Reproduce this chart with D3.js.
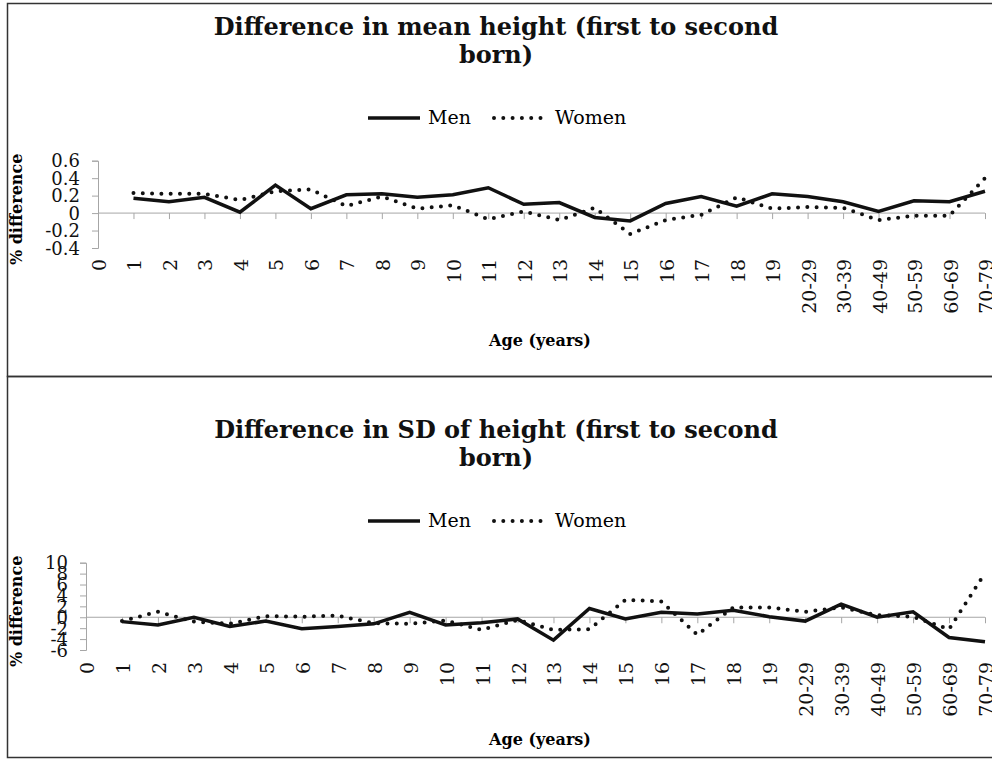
<!DOCTYPE html>
<html>
<head>
<meta charset="utf-8">
<script src="https://cdn.jsdelivr.net/npm/d3@7"></script>
<style>
  body { margin: 0; background: #fff; }
  svg { display: block; font-family: "DejaVu Serif", serif; }
</style>
</head>
<body>
<svg id="chart" width="992" height="761"></svg>
<script>
const ages = ["0","1","2","3","4","5","6","7","8","9","10","11","12","13","14","15","16","17","18","19",
  "20-29","30-39","40-49","50-59","60-69","70-79"];

// mean height difference (%), no value for age 0
const meanMen =   [null,0.17,0.13,0.18,0.01,0.32,0.05,0.21,0.22,0.18,0.21,0.29,0.10,0.12,-0.05,-0.09,0.11,0.19,0.08,0.22,0.19,0.13,0.02,0.14,0.13,0.25];
const meanWomen = [null,0.23,0.22,0.22,0.15,0.25,0.27,0.08,0.19,0.05,0.09,-0.07,0.02,-0.08,0.06,-0.24,-0.08,-0.02,0.18,0.05,0.07,0.06,-0.08,-0.03,-0.03,0.40];

// SD of height difference (%)
const sdMen =   [null,-0.8,-1.4,0.0,-1.7,-0.7,-2.1,-1.7,-1.2,0.9,-1.4,-1.0,-0.3,-4.2,1.6,-0.3,0.9,0.6,1.3,0.1,-0.7,2.4,0.0,1.0,-3.7,-4.5];
const sdWomen = [null,-0.7,1.0,-0.8,-1.2,0.2,0.1,0.3,-1.1,-1.2,-0.6,-2.3,-0.5,-2.3,-2.2,3.2,2.9,-3.2,1.8,1.8,1.0,1.8,0.4,0.1,-2.2,8.1];

const meanTicks = [-0.4,-0.2,0,0.2,0.4,0.6];
const sdTicks = [-6,-4,-2,0,2,4,6,8,10];

const svg = d3.select("#chart");
const axisGray = "#a6a6a6";
const dots = "0 9.3";

function drawPanel(o) {
  const g = svg.append("g");

  // frame
  g.append("rect")
    .attr("x", 7.5).attr("y", o.boxTop)
    .attr("width", 1000).attr("height", o.boxH)
    .attr("fill", "none").attr("stroke", "#333").attr("stroke-width", 1.5);

  // title
  const title = g.append("text")
    .attr("text-anchor", "middle")
    .attr("font-size", 24).attr("font-weight", "bold").attr("fill", "#111");
  o.title.forEach((t, i) => {
    title.append("tspan").attr("x", 496).attr("y", o.titleY + i * 28).text(t);
  });

  // legend
  const ly = o.legendY;
  g.append("line").attr("x1", 368).attr("x2", 420).attr("y1", ly).attr("y2", ly)
    .attr("stroke", "#111").attr("stroke-width", 3.5);
  g.append("text").attr("x", 428).attr("y", ly + 6).attr("font-size", 19).text("Men");
  g.append("line").attr("x1", 494).attr("x2", 546).attr("y1", ly).attr("y2", ly)
    .attr("stroke", "#111").attr("stroke-width", 4)
    .attr("stroke-dasharray", dots).attr("stroke-linecap", "round");
  g.append("text").attr("x", 555).attr("y", ly + 6).attr("font-size", 19).text("Women");

  const x = d3.scalePoint().domain(ages).range([o.x0, 985]);
  const y = d3.scaleLinear().domain(o.domain).range([o.y1, o.y0]);

  // y axis
  const ya = g.append("g").attr("transform", `translate(${o.x0},0)`)
    .call(d3.axisLeft(y).tickValues(o.ticks).tickSize(6).tickPadding(12).tickFormat(d => d));
  ya.select(".domain").attr("stroke", axisGray);
  ya.selectAll(".tick line").attr("stroke", axisGray);
  ya.selectAll("text").attr("font-size", 18).attr("fill", "#111")
    .attr("font-family", "DejaVu Serif, serif").attr("dy", "0.34em");

  // x axis at zero
  const xa = g.append("g").attr("transform", `translate(0,${y(0)})`)
    .call(d3.axisBottom(x).tickSize(6).tickFormat(""));
  xa.select(".domain").attr("stroke", axisGray).attr("d", `M${o.x0},0H985`);
  xa.selectAll(".tick line").attr("stroke", axisGray);

  // rotated category labels
  g.append("g").selectAll("text").data(ages).join("text")
    .attr("transform", d => `translate(${x(d) + 8},${o.labelTop}) rotate(-90)`)
    .attr("text-anchor", "end")
    .attr("font-size", 19).attr("fill", "#111")
    .text(d => d);

  // axis titles
  g.append("text")
    .attr("transform", `translate(22,${(o.y0 + o.y1) / 2 + 5}) rotate(-90)`)
    .attr("text-anchor", "middle").attr("font-size", 16).attr("font-weight", "bold")
    .text("% difference");
  g.append("text")
    .attr("x", 540).attr("y", o.xTitleY)
    .attr("text-anchor", "middle").attr("font-size", 16).attr("font-weight", "bold")
    .text("Age (years)");

  const line = d3.line()
    .defined(d => d.v !== null)
    .x(d => x(d.a)).y(d => y(d.v));

  g.append("path")
    .datum(ages.map((a, i) => ({a, v: o.women[i]})))
    .attr("d", line).attr("fill", "none").attr("stroke", "#111")
    .attr("stroke-width", 4).attr("stroke-dasharray", dots).attr("stroke-linecap", "round");

  g.append("path")
    .datum(ages.map((a, i) => ({a, v: o.men[i]})))
    .attr("d", line).attr("fill", "none").attr("stroke", "#111")
    .attr("stroke-width", 3.5).attr("stroke-linejoin", "miter");
}

drawPanel({
  boxTop: 3.5, boxH: 373,
  title: ["Difference in mean height (first to second", "born)"],
  titleY: 35, legendY: 118,
  x0: 98, y0: 160.7, y1: 248,
  domain: [-0.4, 0.6], ticks: meanTicks,
  labelTop: 259, xTitleY: 346,
  men: meanMen, women: meanWomen
});

drawPanel({
  boxTop: 376.5, boxH: 381,
  title: ["Difference in SD of height (first to second", "born)"],
  titleY: 438, legendY: 521,
  x0: 86, y0: 562.7, y1: 650,
  domain: [-6, 10], ticks: sdTicks,
  labelTop: 662, xTitleY: 745,
  men: sdMen, women: sdWomen
});
</script>
</body>
</html>
